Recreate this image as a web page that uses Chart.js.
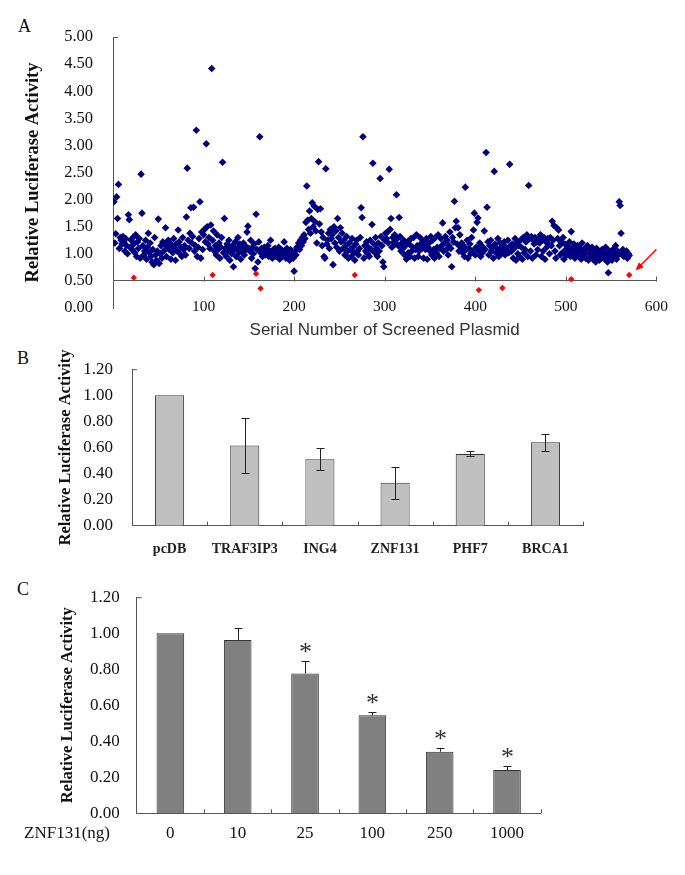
<!DOCTYPE html>
<html>
<head>
<meta charset="utf-8">
<script src="https://cdn.jsdelivr.net/npm/chart.js@4/dist/chart.umd.min.js"></script>
<style>
  body { margin: 0; background: #fff; }
  #wrap { position: relative; width: 685px; height: 875px; background: #fff; overflow: hidden; }
  #wrap canvas { position: absolute; left: 0; }
  .tag { position: absolute; font: 18px 'Liberation Serif', serif; color: #111; line-height: 20px; }
</style>
</head>
<body>
<div id="wrap">
  <div class="tag" style="left:18px;top:16px">A</div>
  <div class="tag" style="left:17px;top:348px">B</div>
  <div class="tag" style="left:17px;top:579px">C</div>
  <canvas id="chartA" width="685" height="345" style="top:0"></canvas>
  <canvas id="chartB" width="685" height="230" style="top:340px"></canvas>
  <canvas id="chartC" width="685" height="305" style="top:570px"></canvas>
</div>
<script>
// Panel A - screen of 570 plasmids, value of plasmid n is screenBlueY[n - 1]
const screenBlueY = [
  1.96, 1.20, 1.37, 2.05, 1.65, 2.28, 1.10, 1.30, 1.25, 1.18,
  1.32, 1.22, 1.05, 1.28, 1.15, 1.00, 1.72, 1.63, 1.12, 1.25,
  1.08, 1.30, 1.18, 1.02, 1.35, 0.95, 1.22, 1.10, 1.28, 0.92,
  2.47, 1.75, 1.15, 0.98, 1.05, 1.25, 0.90, 1.12, 1.38, 1.02,
  1.20, 0.95, 0.85, 1.08, 0.80, 1.30, 0.98, 0.88, 1.05, 1.64,
  0.82, 1.00, 1.15, 0.92, 1.22, 1.05, 1.18, 1.48, 0.95, 1.12,
  1.25, 1.08, 1.20, 0.90, 1.15, 1.02, 1.28, 1.10, 0.88, 1.18,
  1.05, 1.44, 1.22, 1.00, 1.12, 0.95, 1.30, 1.08, 1.15, 0.98,
  1.68, 2.58, 1.25, 1.10, 1.38, 1.85, 1.20, 1.32, 1.86, 1.05,
  1.15, 3.28, 0.95, 1.12, 1.28, 1.96, 0.92, 1.40, 1.08, 1.35,
  1.45, 1.22, 3.03, 1.50, 1.18, 1.30, 1.10, 1.53, 4.42, 1.25,
  1.42, 1.05, 1.15, 0.98, 1.35, 1.08, 1.20, 0.92, 1.12, 1.30,
  2.69, 1.02, 1.65, 1.10, 0.95, 1.18, 1.05, 1.25, 0.88, 1.12,
  1.00, 1.15, 0.76, 1.08, 1.22, 0.95, 1.10, 1.30, 1.02, 1.18,
  0.90, 1.12, 1.05, 1.20, 0.98, 1.15, 1.08, 1.40, 1.51, 1.10,
  1.05, 1.25, 0.92, 1.12, 1.00, 1.18, 0.73, 1.73, 1.08, 0.85,
  1.22, 3.16, 1.02, 1.10, 0.95, 1.05, 1.12, 0.98, 1.08, 1.00,
  1.15, 0.95, 1.05, 1.25, 1.02, 0.92, 1.08, 1.00, 1.10, 0.95,
  1.05, 0.98, 1.12, 0.90, 1.02, 1.08, 0.95, 1.00, 1.22, 1.05,
  0.92, 1.10, 0.98, 1.02, 0.88, 1.08, 0.95, 1.00, 0.92, 0.68,
  1.05, 0.98, 1.12, 1.10, 1.20, 1.08, 1.25, 1.15, 1.30, 1.22,
  1.35, 1.28, 1.58, 2.25, 1.62, 1.45, 1.79, 1.38, 1.65, 1.94,
  1.50, 1.88, 1.59, 1.42, 1.20, 1.82, 2.70, 1.55, 1.83, 1.40,
  1.15, 1.30, 0.95, 0.92, 2.57, 1.18, 1.25, 1.38, 1.10, 1.45,
  1.28, 1.35, 0.80, 1.50, 1.20, 1.42, 1.12, 1.65, 1.30, 1.05,
  1.48, 1.22, 1.38, 1.10, 1.25, 0.98, 1.15, 1.32, 1.05, 0.92,
  1.20, 1.08, 0.95, 1.28, 1.12, 1.02, 0.88, 1.18, 1.25, 1.05,
  0.98, 1.10, 1.30, 1.85, 1.67, 3.16, 0.92, 1.15, 1.05, 1.22,
  1.00, 1.12, 0.95, 1.25, 1.08, 1.54, 2.67, 1.18, 1.02, 1.30,
  1.10, 0.95, 1.20, 1.05, 2.39, 1.32, 1.15, 0.85, 0.76, 1.25,
  1.38, 1.28, 1.40, 1.20, 2.56, 1.45, 1.65, 1.12, 1.30, 1.22,
  1.35, 1.18, 2.09, 1.28, 1.15, 1.67, 1.32, 1.05, 1.20, 1.10,
  1.25, 0.98, 1.15, 0.90, 1.22, 1.02, 1.18, 0.95, 1.28, 1.05,
  1.12, 1.30, 0.92, 1.08, 1.35, 1.15, 0.95, 1.05, 1.30, 1.18,
  1.10, 1.22, 0.92, 1.15, 1.08, 1.28, 0.90, 1.12, 1.20, 1.05,
  1.32, 0.98, 1.25, 1.08, 0.92, 1.30, 1.02, 1.12, 1.35, 0.95,
  1.10, 1.28, 1.15, 1.57, 1.05, 1.20, 1.32, 1.08, 1.25, 0.98,
  1.15, 1.40, 1.10, 0.76, 1.30, 1.22, 1.97, 1.48, 1.60, 1.18,
  1.48, 1.05, 1.35, 1.12, 1.20, 1.02, 1.15, 0.95, 2.23, 1.08,
  1.25, 0.92, 1.10, 1.18, 1.00, 1.30, 1.05, 1.44, 1.75, 0.98,
  1.12, 1.58, 1.66, 1.05, 1.20, 0.95, 1.15, 1.02, 1.10, 1.42,
  1.08, 2.87, 1.86, 1.22, 0.98, 1.15, 1.25, 1.05, 1.12, 0.92,
  2.52, 1.18, 1.02, 1.10, 1.28, 0.95, 1.08, 1.20, 1.00, 1.15,
  1.05, 1.22, 0.98, 1.12, 1.08, 1.25, 1.02, 2.65, 1.15, 1.05,
  1.18, 0.92, 1.10, 1.28, 0.88, 1.20, 1.00, 1.15, 0.95, 1.25,
  1.12, 0.90, 1.30, 1.02, 1.08, 1.22, 1.35, 0.95, 2.26, 1.28,
  1.05, 1.32, 0.92, 1.25, 1.18, 1.30, 0.98, 1.22, 1.08, 1.28,
  1.20, 1.35, 0.95, 1.25, 1.05, 1.30, 0.90, 1.22, 1.12, 1.28,
  1.18, 1.00, 1.30, 1.15, 1.60, 1.25, 1.52, 1.05, 0.92, 1.48,
  1.28, 1.44, 1.15, 0.98, 1.22, 1.02, 1.30, 0.90, 1.18, 1.08,
  0.98, 1.15, 1.05, 1.22, 0.95, 1.41, 1.10, 1.02, 1.18, 0.92,
  1.08, 1.00, 1.15, 0.95, 1.12, 1.05, 0.90, 1.20, 1.02, 0.98,
  1.10, 0.92, 1.05, 1.15, 0.88, 1.00, 1.08, 0.95, 1.12, 0.90,
  1.02, 0.98, 0.85, 1.10, 0.95, 1.05, 0.88, 1.00, 0.92, 1.08,
  0.95, 1.02, 0.90, 1.12, 0.98, 0.85, 0.65, 1.05, 0.92, 1.00,
  0.88, 1.08, 0.95, 1.02, 1.15, 0.90, 1.05, 0.98, 1.96, 1.89,
  1.38, 1.00, 1.08, 0.95, 1.02, 0.98, 1.05, 0.92, 1.00, 0.97
];
// red = plasmids picked as repressors
const screenRedX = [23, 110, 158, 163, 267, 404, 430, 506, 570];
const screenRedY = [0.56, 0.61, 0.63, 0.36, 0.61, 0.33, 0.37, 0.53, 0.61];
const arrowFrom = [600, 1.08];
const arrowTo = [577, 0.69];
const screenXTicks = [0, 100, 200, 300, 400, 500, 600];

// Panel B - candidate repressors
const plasmidNames = ['pcDB', 'TRAF3IP3', 'ING4', 'ZNF131', 'PHF7', 'BRCA1'];
const plasmidMean = [1.00, 0.615, 0.51, 0.33, 0.55, 0.64];
const plasmidLow = [null, 0.405, 0.43, 0.206, 0.532, 0.576];
const plasmidHigh = [null, 0.825, 0.593, 0.451, 0.571, 0.705];

// Panel C - ZNF131 dose response
const doseLabels = ['0', '10', '25', '100', '250', '1000'];
const doseMean = [1.00, 0.963, 0.776, 0.544, 0.342, 0.24];
const doseHigh = [null, 1.028, 0.844, 0.561, 0.364, 0.264];
const doseSignificant = [false, false, true, true, true, true];

const SERIF = "'Liberation Serif', 'Times New Roman', serif";
const AXIS = '#555';
const yTitle = 'Relative Luciferase Activity';

function fixWidth(w) { return s => { s.width = w; }; }
function fixHeight(h) { return s => { s.height = h; }; }

// whiskers (and optional asterisks) on top of the bars
function errorPlugin(low, high, cap, stars) {
  return {
    id: 'errorBars',
    afterDatasetsDraw(chart) {
      const ctx = chart.ctx;
      const y = chart.scales.y;
      const bars = chart.getDatasetMeta(0).data;
      ctx.save();
      ctx.strokeStyle = '#222';
      ctx.lineWidth = 1;
      bars.forEach((bar, i) => {
        if (high[i] == null) return;
        const x = Math.round(bar.x) + 0.5;
        const top = Math.round(y.getPixelForValue(high[i])) + 0.5;
        const bot = low ? Math.round(y.getPixelForValue(low[i])) + 0.5 : bar.y;
        ctx.beginPath();
        ctx.moveTo(x, bot); ctx.lineTo(x, top);
        ctx.moveTo(x - cap, top); ctx.lineTo(x + cap, top);
        if (low) { ctx.moveTo(x - cap, bot); ctx.lineTo(x + cap, bot); }
        ctx.stroke();
        if (stars && stars[i]) {
          ctx.fillStyle = '#333';
          ctx.font = '26px ' + SERIF;
          ctx.textAlign = 'center';
          ctx.textBaseline = 'middle';
          ctx.fillText('*', x, top - 8);
        }
      });
      ctx.restore();
    }
  };
}

// short inward tick marks like the original Excel axes
function stubPlugin(xIsCategory) {
  return {
    id: 'stubs',
    afterDraw(chart) {
      const {ctx, chartArea} = chart;
      const xs = chart.scales.x;
      ctx.save();
      ctx.strokeStyle = AXIS;
      ctx.lineWidth = 1;
      ctx.beginPath();
      ctx.moveTo(chartArea.left, chartArea.top + 0.5);
      ctx.lineTo(chartArea.left + 5, chartArea.top + 0.5);
      if (xIsCategory) {
        const n = xs.ticks.length;
        for (let i = 1; i <= n; i++) {
          const px = Math.round(i < n ? (xs.getPixelForValue(i - 1) + xs.getPixelForValue(i)) / 2 : chartArea.right) + 0.5;
          ctx.moveTo(px, chartArea.bottom); ctx.lineTo(px, chartArea.bottom - 4);
        }
      } else {
        const base = Math.round(chart.scales.y.getPixelForValue(0.5)) + 0.5;
        screenXTicks.slice(1).forEach(v => {
          const px = Math.round(xs.getPixelForValue(v)) + 0.5;
          ctx.moveTo(px, base); ctx.lineTo(px, base - 5);
        });
      }
      ctx.stroke();
      ctx.restore();
    }
  };
}

const arrowPlugin = {
  id: 'arrow',
  afterDatasetsDraw(chart) {
    const {ctx, scales: {x, y}} = chart;
    const x0 = x.getPixelForValue(arrowFrom[0]), y0 = y.getPixelForValue(arrowFrom[1]);
    const x1 = x.getPixelForValue(arrowTo[0]), y1 = y.getPixelForValue(arrowTo[1]);
    const a = Math.atan2(y1 - y0, x1 - x0);
    ctx.save();
    ctx.strokeStyle = '#ff0000';
    ctx.fillStyle = '#ff0000';
    ctx.lineWidth = 1.5;
    ctx.beginPath();
    ctx.moveTo(x0, y0);
    ctx.lineTo(x1 - 6 * Math.cos(a), y1 - 6 * Math.sin(a));
    ctx.stroke();
    ctx.beginPath();
    ctx.moveTo(x1, y1);
    ctx.lineTo(x1 - 9 * Math.cos(a - 0.4), y1 - 9 * Math.sin(a - 0.4));
    ctx.lineTo(x1 - 9 * Math.cos(a + 0.4), y1 - 9 * Math.sin(a + 0.4));
    ctx.closePath();
    ctx.fill();
    ctx.restore();
  }
};

const doseCaption = {
  id: 'doseCaption',
  afterDraw(chart) {
    const ctx = chart.ctx;
    ctx.save();
    ctx.fillStyle = '#111';
    ctx.font = '17px ' + SERIF;
    ctx.textAlign = 'right';
    ctx.textBaseline = 'middle';
    ctx.fillText('ZNF131(ng)', 110, chart.chartArea.bottom + 20);
    ctx.restore();
  }
};

// ---------- A ----------
new Chart(document.getElementById('chartA'), {
  type: 'scatter',
  data: {
    datasets: [
      {
        data: screenRedX.map((x, i) => ({x: x, y: screenRedY[i]})),
        pointStyle: 'rectRot',
        pointRadius: 3.2,
        backgroundColor: '#ff0000',
        borderWidth: 0
      },
      {
        data: screenBlueY.map((v, i) => ({x: i + 1, y: v})),
        pointStyle: 'rectRot',
        pointRadius: 3.8,
        backgroundColor: '#000080',
        borderWidth: 0
      }
    ]
  },
  options: {
    responsive: false,
    animation: false,
    layout: {padding: {left: 0, top: 37, right: 27, bottom: 4.6}},
    plugins: {
      legend: {display: false},
      tooltip: {enabled: false},
      title: {
        display: true,
        position: 'bottom',
        fullSize: false,
        text: 'Serial Number of Screened Plasmid',
        color: '#333',
        font: {family: "'Liberation Sans', Arial, sans-serif", size: 17, weight: 'normal'},
        padding: {top: 12, bottom: 0}
      }
    },
    scales: {
      x: {
        type: 'linear',
        position: {y: 0.5},
        min: 0, max: 600,
        afterFit: fixHeight(0),
        afterBuildTicks: s => { s.ticks = screenXTicks.map(v => ({value: v})); },
        grid: {display: false, drawTicks: false},
        border: {color: AXIS, width: 1},
        ticks: {
          padding: 17,
          color: '#111',
          font: {family: SERIF, size: 15.5},
          callback: v => (v === 0 ? '' : v)
        }
      },
      y: {
        min: 0, max: 5,
        afterFit: fixWidth(113),
        grid: {display: false, drawTicks: false},
        border: {color: AXIS, width: 1},
        ticks: {
          stepSize: 0.5,
          padding: 20,
          color: '#111',
          font: {family: SERIF, size: 16.5},
          callback: v => Number(v).toFixed(2)
        },
        title: {
          display: true, text: yTitle, color: '#111',
          font: {family: SERIF, size: 18.5, weight: 'bold'},
          padding: 22
        }
      }
    }
  },
  plugins: [arrowPlugin, stubPlugin(false)]
});

// ---------- B ----------
new Chart(document.getElementById('chartB'), {
  type: 'bar',
  data: {
    labels: plasmidNames,
    datasets: [{
      data: plasmidMean,
      backgroundColor: '#c0c0c0',
      borderColor: '#333',
      borderWidth: 1,
      barPercentage: 0.387,
      categoryPercentage: 1
    }]
  },
  options: {
    responsive: false,
    animation: false,
    layout: {padding: {left: 0, top: 20, right: 102, bottom: 0}},
    plugins: {legend: {display: false}, tooltip: {enabled: false}},
    scales: {
      x: {
        afterFit: fixHeight(44.3),
        grid: {display: false, drawTicks: false},
        border: {color: AXIS, width: 1},
        ticks: {padding: 15, color: '#222', font: {family: SERIF, size: 14, weight: 'bold'}}
      },
      y: {
        min: 0, max: 1.2,
        afterFit: fixWidth(132),
        grid: {display: false, drawTicks: false},
        border: {color: AXIS, width: 1},
        ticks: {
          stepSize: 0.2, padding: 19, color: '#111',
          font: {family: SERIF, size: 17},
          callback: v => Number(v).toFixed(2)
        },
        title: {
          display: true, text: yTitle, color: '#111',
          font: {family: SERIF, size: 16.5, weight: 'bold'},
          padding: 56
        }
      }
    }
  },
  plugins: [errorPlugin(plasmidLow, plasmidHigh, 4, null), stubPlugin(true)]
});

// ---------- C ----------
new Chart(document.getElementById('chartC'), {
  type: 'bar',
  data: {
    labels: doseLabels,
    datasets: [{
      data: doseMean,
      backgroundColor: '#808080',
      borderColor: '#333',
      borderWidth: 1,
      barPercentage: 0.41,
      categoryPercentage: 1
    }]
  },
  options: {
    responsive: false,
    animation: false,
    layout: {padding: {left: 0, top: 26.7, right: 144.3, bottom: 0}},
    plugins: {legend: {display: false}, tooltip: {enabled: false}},
    scales: {
      x: {
        afterFit: fixHeight(61.7),
        grid: {display: false, drawTicks: false},
        border: {color: AXIS, width: 1},
        ticks: {padding: 10, color: '#111', font: {family: SERIF, size: 17}}
      },
      y: {
        min: 0, max: 1.2,
        afterFit: fixWidth(136.7),
        grid: {display: false, drawTicks: false},
        border: {color: AXIS, width: 1},
        ticks: {
          stepSize: 0.2, padding: 17, color: '#111',
          font: {family: SERIF, size: 17},
          callback: v => Number(v).toFixed(2)
        },
        title: {
          display: true, text: yTitle, color: '#111',
          font: {family: SERIF, size: 16.5, weight: 'bold'},
          padding: 58
        }
      }
    }
  },
  plugins: [errorPlugin(null, doseHigh, 4, doseSignificant), stubPlugin(true), doseCaption]
});
</script>
</body>
</html>
